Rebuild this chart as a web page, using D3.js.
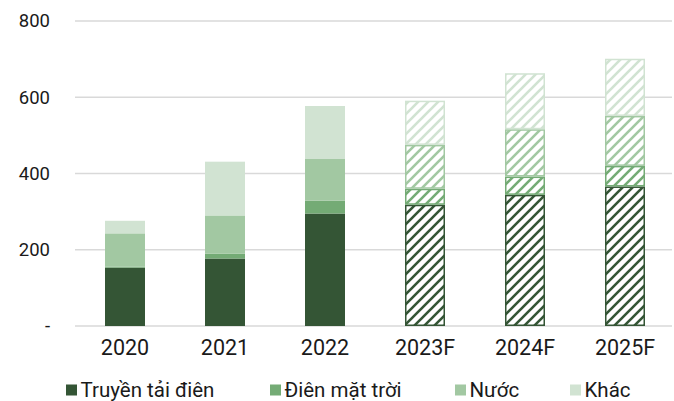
<!DOCTYPE html>
<html>
<head>
<meta charset="utf-8">
<script src="https://cdn.jsdelivr.net/npm/d3@7/dist/d3.min.js"></script>
<style>
  html, body { margin: 0; padding: 0; background: #fff; }
  svg { display: block; font-family: Roboto, "Noto Sans", sans-serif; }
</style>
</head>
<body>
<svg id="chart" width="674" height="401"></svg>
<script>
// Categories (years; "F" marks forecast years)
const years = ["2020", "2021", "2022", "2023F", "2024F", "2025F"];
const forecast = [false, false, false, true, true, true];

// Series values per year
const truyenTaiDien = [153, 177, 295, 318, 344, 366];
const dienMatTroi   = [3, 13, 34, 42, 48, 54];
const nuoc          = [87, 100, 109, 115, 124, 131];
const khac          = [33, 141, 139, 116, 147, 150];

const seriesNames = ["Truyền tải điên", "Điên mặt trời", "Nước", "Khác"];
const seriesValues = [truyenTaiDien, dienMatTroi, nuoc, khac];
const seriesColors = ["#345535", "#74ab75", "#a2c8a2", "#d1e3d2"];

const yTicks = [0, 200, 400, 600, 800];

const svg = d3.select("#chart");
const margin = { left: 75 };

const x = d3.scaleBand().domain(years).range([margin.left, 675]).paddingInner(0.6).paddingOuter(0.3);
const y = d3.scaleLinear().domain([0, 800]).range([326, 21]);

// Diagonal hatch patterns, one per series colour
const defs = svg.append("defs");
seriesColors.forEach((c, i) => {
  const p = defs.append("pattern")
    .attr("id", "hatch" + i)
    .attr("patternUnits", "userSpaceOnUse")
    .attr("width", 10).attr("height", 10);
  p.append("rect").attr("width", 10).attr("height", 10).attr("fill", "#fff");
  p.append("path")
    .attr("d", "M-2,2 L2,-2 M0,10 L10,0 M8,12 L12,8")
    .attr("stroke", c).attr("stroke-width", 2.6);
});

// Gridlines
svg.append("g").selectAll("line").data(yTicks).join("line")
  .attr("x1", margin.left).attr("x2", 672)
  .attr("y1", d => y(d)).attr("y2", d => y(d))
  .attr("stroke", "#d9d9d9").attr("stroke-width", 1.5);

// Y axis labels
const yAxis = d3.axisLeft(y).tickValues(yTicks)
  .tickFormat(d => d === 0 ? "-" : d3.format("d")(d))
  .tickSize(0).tickPadding(0);
const ya = svg.append("g").attr("transform", "translate(50,0)").call(yAxis);
ya.select(".domain").remove();
ya.selectAll("text").attr("font-size", 18.5).attr("fill", "#1a1a1a").attr("font-family", "Roboto");

// Stacked bars
const table = years.map((yr, i) => {
  const o = { year: yr, forecast: forecast[i] };
  seriesNames.forEach((n, s) => { o[n] = seriesValues[s][i]; });
  return o;
});
const stacked = d3.stack().keys(seriesNames)(table);

stacked.forEach((layer, s) => {
  svg.append("g").selectAll("rect").data(layer).join("rect")
    .attr("x", d => x(d.data.year) + (d.data.forecast ? 0.75 : 0))
    .attr("width", d => x.bandwidth() - (d.data.forecast ? 1.5 : 0))
    .attr("y", d => y(d[1]) + (d.data.forecast ? 0.75 : 0))
    .attr("height", d => y(d[0]) - y(d[1]) - (d.data.forecast ? 1.5 : 0))
    .attr("fill", d => d.data.forecast ? `url(#hatch${s})` : seriesColors[s])
    .attr("stroke", d => d.data.forecast ? seriesColors[s] : "none")
    .attr("stroke-width", 1.5);
});

// X axis labels
const xAxis = d3.axisBottom(x).tickSize(0).tickPadding(0);
const xa = svg.append("g").attr("transform", "translate(0,340)").call(xAxis);
xa.select(".domain").remove();
xa.selectAll("text").attr("font-size", 21.5).attr("fill", "#1a1a1a").attr("font-family", "Roboto");

// Legend
const legendX = [66, 270, 455, 570];
const lg = svg.append("g").selectAll("g").data(seriesNames).join("g")
  .attr("transform", (d, i) => `translate(${legendX[i]},384.5)`);
lg.append("rect").attr("width", 11).attr("height", 11).attr("fill", (d, i) => seriesColors[i]);
lg.append("text").attr("x", 14.5).attr("y", 5.5).attr("dy", "0.36em")
  .attr("font-size", 20.5).attr("fill", "#1a1a1a").text(d => d);
</script>
</body>
</html>
